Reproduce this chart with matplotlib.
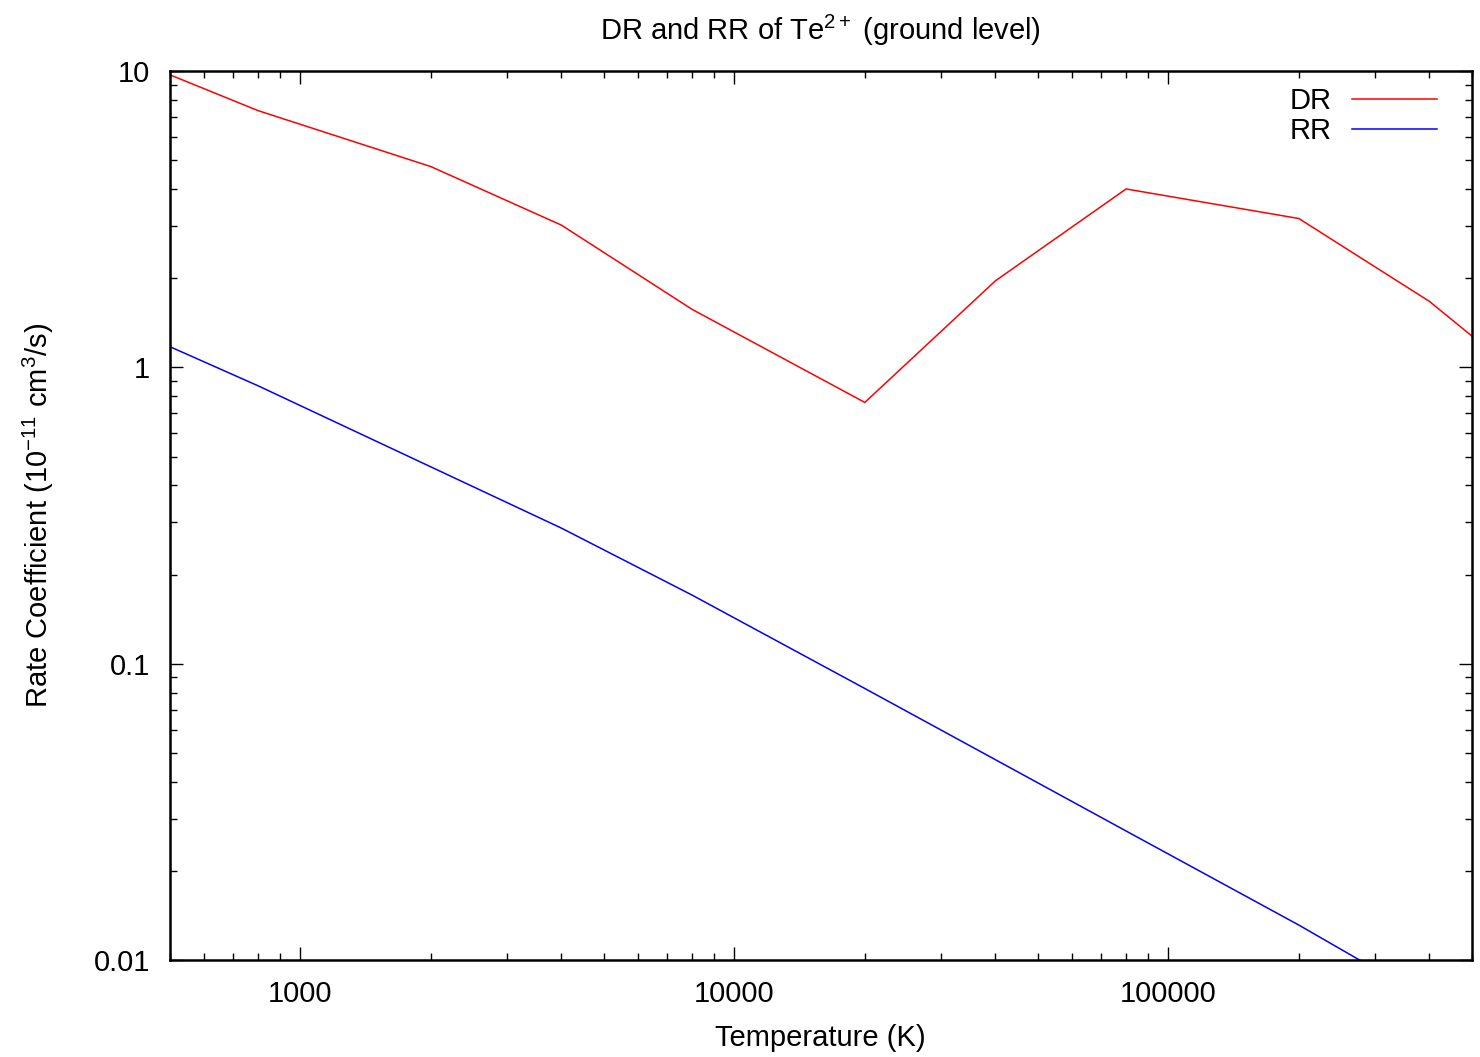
import matplotlib
matplotlib.use("Agg")
import matplotlib.pyplot as plt
from matplotlib.ticker import FixedLocator, FixedFormatter, LogLocator, NullFormatter

plt.rcParams['font.family'] = ['Liberation Sans', 'DejaVu Sans']
plt.rcParams['mathtext.fontset'] = 'custom'
plt.rcParams['mathtext.rm'] = 'Liberation Sans'
plt.rcParams['mathtext.it'] = 'Liberation Sans:italic'
plt.rcParams['mathtext.bf'] = 'Liberation Sans:bold'

# Temperature grid (K)
temperature = [400, 800, 2000, 4000, 8000, 20000, 40000, 80000, 200000, 400000, 800000]
# Rate coefficients (1e-11 cm^3/s)
dr_rate = [11.1, 7.35, 4.76, 3.02, 1.57, 0.762, 1.96, 4.00, 3.18, 1.67, 0.73]
rr_rate = [1.36, 0.867, 0.462, 0.287, 0.1706, 0.0826, 0.0475, 0.0273, 0.01315, 0.00733, 0.0040]

x_ticks = [1000, 10000, 100000]
x_tick_labels = ['1000', '10000', '100000']
y_ticks = [0.01, 0.1, 1, 10]
y_tick_labels = ['0.01', '0.1', '1', '10']

FS = 21

fig = plt.figure(figsize=(14.8, 10.57), dpi=100)
ax = fig.add_axes([169.5/1480, 1 - 960.3/1057, (1471.5-169.5)/1480, (960.3-71)/1057])

ax.plot(temperature, dr_rate, color='#ff0000', lw=1.1, label='DR')
ax.plot(temperature, rr_rate, color='#0000ff', lw=1.1, label='RR')

ax.set_xscale('log')
ax.set_yscale('log')
ax.set_xlim(500, 500000)
ax.set_ylim(0.01, 10)

ax.xaxis.set_major_locator(FixedLocator(x_ticks))
ax.xaxis.set_major_formatter(FixedFormatter(x_tick_labels))
ax.yaxis.set_major_locator(FixedLocator(y_ticks))
ax.yaxis.set_major_formatter(FixedFormatter(y_tick_labels))
ax.xaxis.set_minor_locator(LogLocator(base=10, subs=range(2, 10), numticks=20))
ax.yaxis.set_minor_locator(LogLocator(base=10, subs=range(2, 10), numticks=20))
ax.xaxis.set_minor_formatter(NullFormatter())
ax.yaxis.set_minor_formatter(NullFormatter())

ax.tick_params(which='both', direction='in', top=True, right=True, width=1.0, labelsize=FS)
ax.tick_params(which='major', length=9.5)
ax.tick_params(which='minor', length=5)
ax.tick_params(axis='y', which='major', pad=14)
ax.tick_params(axis='x', which='major', pad=14)
for s in ax.spines.values():
    s.set_linewidth(1.8)

ax.set_title('DR and RR of Te$^{2+}$ (ground level)', fontsize=FS, pad=22)
ax.set_xlabel('Temperature (K)', fontsize=FS, labelpad=12)
ax.set_ylabel('Rate Coefficient (10$^{-11}$ cm$^{3}$/s)', fontsize=FS, labelpad=27)

leg = ax.legend(loc='upper right', frameon=False, markerfirst=False, fontsize=FS,
                handlelength=2.9, labelspacing=0.05, handletextpad=0.7,
                borderaxespad=0.3, bbox_to_anchor=(0.989, 1.0045))

fig.savefig('out.png', dpi=100)
